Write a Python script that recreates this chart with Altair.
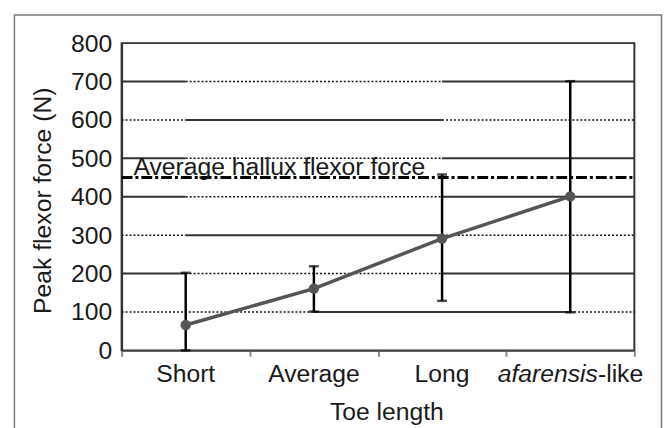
import altair as alt
import pandas as pd

# ---- data ----
categories = ["Short", "Average", "Long", "afarensis-like"]
cat_pos = [0.5, 1.5, 2.5, 3.5]
means = [66, 161, 291, 401]
err_low = [0, 101, 129, 99]
err_high = [202, 219, 458, 701]
hallux_force = 450
hallux_label = "Average hallux flexor force"
y_ticks = [0, 100, 200, 300, 400, 500, 600, 700, 800]
x_bounds = [0, 1, 2, 3, 4]
# odd mixed solid / dotted gridlines of the original figure
grid_y = [700, 600, 500, 400, 300, 200, 100]
grid_break_a = [0.5, 0.5, 0.5, 0.5, 0.5, 0.5, 1.5]
grid_break_b = [2.5, 2.5, 2.5, 2.5, 2.5, 2.5, 3.5]
grid_outer_solid = [True, False, True, True, False, True, False]

W, H = 519, 311
FONT = "Liberation Sans"
FS = 25
TXT = "#1a1a1a"

df = pd.DataFrame({"cat": categories, "pos": cat_pos, "mean": means,
                   "lo": err_low, "hi": err_high})

seg_rows = []
for y, a, b, outer in zip(grid_y, grid_break_a, grid_break_b, grid_outer_solid):
    o = "solid" if outer else "dotted"
    i = "dotted" if outer else "solid"
    seg_rows += [{"y": y, "x1": 0, "x2": a, "style": o},
                 {"y": y, "x1": a, "x2": b, "style": i},
                 {"y": y, "x1": b, "x2": 4, "style": o}]
seg = pd.DataFrame(seg_rows)

xs = alt.Scale(domain=[0, 4], nice=False, zero=False)
ys = alt.Scale(domain=[0, 800], nice=False)

xa = alt.Axis(
    values=x_bounds, labels=False, grid=False, tickSize=6, tickColor="#8a8a8a",
    tickWidth=2, domainColor="#444444", domainWidth=2,
    title="Toe length", titleFont=FONT, titleFontSize=FS, titleFontWeight="normal",
    titleColor=TXT, titleX=268, titleY=70, titleBaseline="alphabetic", titleAlign="center")
ya = alt.Axis(
    values=y_ticks, grid=False, ticks=False, labelPadding=10, labelFont=FONT,
    labelFontSize=FS, labelColor=TXT, domainColor="#333333", domainWidth=2,
    title="Peak flexor force (N)", titleFont=FONT, titleFontSize=FS,
    titleFontWeight="normal", titleColor=TXT, titleX=-80, titleY=159,
    titleAngle=-90, titleAlign="center", titleBaseline="middle")


def X(f):
    return alt.X(f, scale=xs, axis=xa)


def Y(f):
    return alt.Y(f, scale=ys, axis=ya)


frame = alt.Chart(pd.DataFrame({"a": [0]})).mark_rect(
    fill=None, stroke="#7a7a7a", strokeWidth=1.5
).encode(x=alt.value(-108.5), x2=alt.value(546.5), y=alt.value(-28.5), y2=alt.value(420))

grid_solid = alt.Chart(seg).transform_filter(alt.datum.style == "solid").mark_rule(
    color="#333333", strokeWidth=2
).encode(x=X("x1:Q"), x2="x2:Q", y=Y("y:Q"))

grid_dot = alt.Chart(seg).transform_filter(alt.datum.style == "dotted").mark_rule(
    color="#111111", strokeWidth=1.5, strokeDash=[2, 2]
).encode(x=X("x1:Q"), x2="x2:Q", y=Y("y:Q"))

hdf = pd.DataFrame({"v": [hallux_force], "t": [hallux_label]})
hallux = alt.Chart(hdf).mark_rule(color="#000000", strokeWidth=3, strokeDash=[11, 3, 3, 3]).encode(
    y=Y("v:Q"), x=alt.value(0), x2=alt.value(W))
hallux_txt = alt.Chart(hdf).mark_text(
    align="left", baseline="alphabetic", font=FONT, fontSize=FS, color=TXT, dx=12, dy=-3
).encode(y=Y("v:Q"), x=alt.value(0), text="t:N")

err = alt.Chart(df).mark_rule(color="#000000", strokeWidth=2.5).encode(
    x=X("pos:Q"), y=Y("lo:Q"), y2="hi:Q")
cap_hi = alt.Chart(df).mark_tick(color="#000000", orient="horizontal", size=10, thickness=2.5).encode(
    x=X("pos:Q"), y=Y("hi:Q"))
cap_lo = alt.Chart(df).mark_tick(color="#000000", orient="horizontal", size=10, thickness=2.5).encode(
    x=X("pos:Q"), y=Y("lo:Q"))

line = alt.Chart(df).mark_line(color="#555555", strokeWidth=3.5).encode(
    x=X("pos:Q"), y=Y("mean:Q"))

pts = alt.Chart(df).mark_circle(color="#555555", size=110, opacity=1).encode(
    x=X("pos:Q"), y=Y("mean:Q"))

plain = df[df["cat"] != "afarensis-like"]
cat_txt = alt.Chart(plain).mark_text(
    align="center", baseline="alphabetic", font=FONT, fontSize=FS, color=TXT
).encode(x=X("pos:Q"), y=alt.value(H + 32), text="cat:N")

last = df[df["cat"] == "afarensis-like"].copy()
last["italic"] = last["cat"].str.split("-").str[0]
last["rest"] = "-" + last["cat"].str.split("-").str[1]
ital_txt = alt.Chart(last).mark_text(
    align="right", baseline="alphabetic", font=FONT, fontSize=FS, fontStyle="italic",
    color=TXT, dx=28
).encode(x=X("pos:Q"), y=alt.value(H + 32), text="italic:N")
rest_txt = alt.Chart(last).mark_text(
    align="left", baseline="alphabetic", font=FONT, fontSize=FS, color=TXT, dx=28
).encode(x=X("pos:Q"), y=alt.value(H + 32), text="rest:N")

chart = alt.layer(
    frame, grid_solid, grid_dot, hallux, hallux_txt, err, cap_hi, cap_lo,
    line, pts, cat_txt, ital_txt, rest_txt
).properties(
    width=W, height=H,
    autosize=alt.AutoSizeParams(type="none"),
    padding={"left": 115, "top": 33, "right": 29, "bottom": 76},
    background="white",
).configure_view(stroke="#333333", strokeWidth=2)

chart.save("out.html", embed_options={"renderer": "svg", "actions": False})
